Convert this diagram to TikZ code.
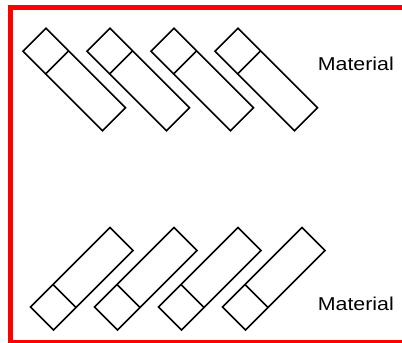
\documentclass[tikz,border=0pt]{standalone}
\usepackage{fontspec}
\setmainfont{Liberation Sans}
\newfontfamily\lblfont[FakeStretch=1.15]{Liberation Sans}
\usetikzlibrary{calc}
\begin{document}
\begin{tikzpicture}[x=1pt,y=-1pt,
  tile/.style={draw=black,line width=1.6pt,line join=miter},
  frame/.style={draw=red,line width=5pt},
  lbl/.style={inner sep=0pt,anchor=base west,font=\lblfont\fontsize{18.6}{20}\selectfont}]
\useasboundingbox (0,0) rectangle (402,343);
\clip (0,0) rectangle (402,343);
\draw[frame] (10.5,7.5) rectangle (420,342);
% top row: tiles falling to the right
\foreach \k in {0,1,2,3}{
  \coordinate (t\k) at ({46+64*\k},28.3);
  \draw[tile] (t\k) -- ++(79.5,79.5) -- ++(-23,23) -- ++(-79.5,-79.5) -- cycle;
  \draw[tile] ($(t\k)+(22.6,22.6)$) -- ++(-23,23);
}
% bottom row: tiles rising to the right
\foreach \k in {0,1,2,3}{
  \coordinate (b\k) at ({53.4+64*\k},330);
  \draw[tile] (b\k) -- ++(-23,-23) -- ++(79.5,-79.5) -- ++(23,23) -- cycle;
  \draw[tile] ($(b\k)+(22.6,-22.6)$) -- ++(-23,-23);
}
\node[lbl] (m1) at (317.6,70) {Material};
\node[lbl] (m2) at (317.6,310) {Material};
\end{tikzpicture}
\end{document}
